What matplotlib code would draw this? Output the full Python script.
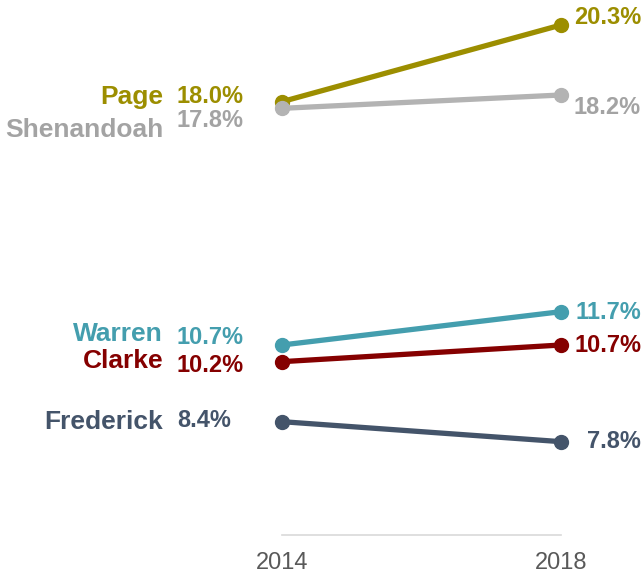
import matplotlib
matplotlib.use("Agg")
import matplotlib.pyplot as plt

years = ["2014", "2018"]
counties = ["Page", "Shenandoah", "Warren", "Clarke", "Frederick"]
v2014 = [18.0, 17.8, 10.7, 10.2, 8.4]
v2018 = [20.3, 18.2, 11.7, 10.7, 7.8]
colors = ["#9c8e00", "#b3b3b3", "#449eae", "#850000", "#44546a"]
text_colors = ["#9c8e00", "#a3a3a3", "#449eae", "#850000", "#44546a"]

# label offsets in pixels (dy positive = up)
name_dy = [5, -22, 11, 1, 0]
lval_dy = [5, -12, 8, -4, 1]
rval_dy = [7, -13, -1, 0, 0]

plt.rcParams['font.family'] = ['Liberation Sans', 'DejaVu Sans']
DPI = 100
fig = plt.figure(figsize=(6.44, 5.75), dpi=DPI)
W, H = 644, 575
ax = fig.add_axes([282 / W, (H - 535) / H, 279 / W, 510 / H])
ax.set_xlim(0, 1)
ax.set_ylim(5, 20.3)

pt = 72 / DPI
for i, c in enumerate(counties):
    ax.plot([0, 1], [v2014[i], v2018[i]], color=colors[i], lw=3.8,
            marker="o", ms=10, clip_on=False, solid_capstyle="round", zorder=3)
    ax.annotate(c, xy=(0, v2014[i]), xytext=(-119 * pt, name_dy[i] * pt),
                textcoords="offset points", ha="right", va="center",
                fontsize=19, fontweight="bold", color=text_colors[i])
    ax.annotate(f"{v2014[i]:.1f}%", xy=(0, v2014[i]), xytext=(-105 * pt, lval_dy[i] * pt),
                textcoords="offset points", ha="left", va="center",
                fontsize=17, fontweight="bold", color=text_colors[i])
    ax.annotate(f"{v2018[i]:.1f}%", xy=(1, v2018[i]), xytext=(80 * pt, rval_dy[i] * pt),
                textcoords="offset points", ha="right", va="center",
                fontsize=17, fontweight="bold", color=text_colors[i])

ax.set_xticks([0, 1])
ax.set_xticklabels(years, fontsize=17, color="#595959")
ax.tick_params(axis="x", length=0, pad=12)
ax.set_yticks([])
for s in ["top", "right", "left"]:
    ax.spines[s].set_visible(False)
ax.spines["bottom"].set_color("#d9d9d9")
ax.spines["bottom"].set_linewidth(1.2)
ax.patch.set_alpha(0)

fig.savefig("out.png", dpi=DPI)
